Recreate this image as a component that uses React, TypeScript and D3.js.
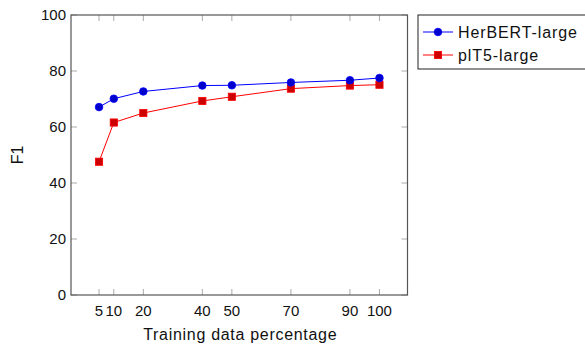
import { useEffect, useRef } from 'react'
import * as d3 from 'd3'

const percentages = [5, 10, 20, 40, 50, 70, 90, 100]
const herbert = [67.1, 70.1, 72.7, 74.8, 74.9, 75.9, 76.7, 77.5]
const plt5 = [47.6, 61.6, 65.0, 69.3, 70.8, 73.7, 74.8, 75.1]
const yTicks = [0, 20, 40, 60, 80, 100]

const series = [
  { name: 'HerBERT-large', values: herbert, color: '#0000ff', fill: '#0000cc', mark: 'circle' },
  { name: 'plT5-large', values: plt5, color: '#ff0000', fill: '#cc0000', mark: 'square' },
]

export default function App() {
  const svgRef = useRef<SVGSVGElement>(null)
  const width = 585
  const height = 346

  useEffect(() => {
    if (!svgRef.current) return
    const svg = d3.select(svgRef.current)
    svg.selectAll('*').remove()

    const font = "'Liberation Sans', 'DejaVu Sans', sans-serif"
    const left = 71, right = 407.5, top = 15, bottom = 295

    const x = d3.scaleLinear().domain([-4.5, 109.5]).range([left, right])
    const y = d3.scaleLinear().domain([0, 100]).range([bottom, top])

    const g = svg.append('g')

    // ticks (inward, mirrored)
    percentages.forEach(p => {
      g.append('line').attr('x1', x(p)).attr('x2', x(p)).attr('y1', bottom).attr('y2', bottom - 6)
        .attr('stroke', '#aaa').attr('stroke-width', 1)
      g.append('line').attr('x1', x(p)).attr('x2', x(p)).attr('y1', top).attr('y2', top + 6)
        .attr('stroke', '#aaa').attr('stroke-width', 1)
    })
    yTicks.forEach(t => {
      g.append('line').attr('x1', left).attr('x2', left + 6).attr('y1', y(t)).attr('y2', y(t))
        .attr('stroke', '#aaa').attr('stroke-width', 1)
      g.append('line').attr('x1', right).attr('x2', right - 6).attr('y1', y(t)).attr('y2', y(t))
        .attr('stroke', '#aaa').attr('stroke-width', 1)
      g.append('text').attr('x', left - 5).attr('y', y(t)).attr('dy', '0.35em')
        .attr('text-anchor', 'end').attr('font-family', font).attr('font-size', 15)
        .attr('fill', '#111').text(t)
    })

    // x tick labels
    percentages.forEach(p => {
      g.append('text').attr('x', x(p)).attr('y', bottom + 21)
        .attr('text-anchor', 'middle').attr('font-family', font).attr('font-size', 15)
        .attr('fill', '#111').text(p)
    })

    // frame
    g.append('rect').attr('x', left).attr('y', top).attr('width', right - left).attr('height', bottom - top)
      .attr('fill', 'none').attr('stroke', '#555').attr('stroke-width', 1.2)

    // axis titles
    g.append('text').attr('x', (left + right) / 2 + 1).attr('y', 340)
      .attr('text-anchor', 'middle').attr('font-family', font).attr('font-size', 16)
      .attr('letter-spacing', 0.7).attr('fill', '#111').text('Training data percentage')
    g.append('text').attr('transform', `translate(23,${(top + bottom) / 2}) rotate(-90)`)
      .attr('text-anchor', 'middle').attr('font-family', font).attr('font-size', 16)
      .attr('fill', '#111').text('F1')

    const line = d3.line<number>().x((d, i) => x(percentages[i])).y(d => y(d))

    const drawMark = (sel: d3.Selection<SVGGElement, unknown, null, undefined>, cx: number, cy: number, s: typeof series[0]) => {
      if (s.mark === 'circle') {
        sel.append('circle').attr('cx', cx).attr('cy', cy).attr('r', 3.8)
          .attr('fill', s.fill).attr('stroke', s.color).attr('stroke-width', 0.8)
      } else {
        sel.append('rect').attr('x', cx - 3.6).attr('y', cy - 3.6).attr('width', 7.2).attr('height', 7.2)
          .attr('fill', s.fill).attr('stroke', s.color).attr('stroke-width', 0.8)
      }
    }

    series.slice().reverse().forEach(s => {
      const sg = g.append('g')
      sg.append('path').datum(s.values).attr('d', line).attr('fill', 'none')
        .attr('stroke', s.color).attr('stroke-width', 1)
      s.values.forEach((v, i) => drawMark(sg, x(percentages[i]), y(v), s))
    })

    // legend
    const lg = g.append('g')
    lg.append('rect').attr('x', 418).attr('y', 15).attr('width', 170).attr('height', 54)
      .attr('fill', '#fff').attr('stroke', '#222').attr('stroke-width', 1)
    series.forEach((s, i) => {
      const ly = 32 + i * 23
      lg.append('line').attr('x1', 423).attr('x2', 453).attr('y1', ly).attr('y2', ly)
        .attr('stroke', s.color).attr('stroke-width', 1)
      drawMark(lg, 438, ly, s)
      lg.append('text').attr('x', 458).attr('y', ly).attr('dy', '0.35em')
        .attr('font-family', font).attr('font-size', 16).attr('letter-spacing', 0.9)
        .attr('fill', '#111').text(s.name)
    })
  }, [])

  return (
    <svg ref={svgRef} width={width} height={height}
      style={{ position: 'absolute', left: 0, top: 0, background: '#fff' }} />
  )
}
